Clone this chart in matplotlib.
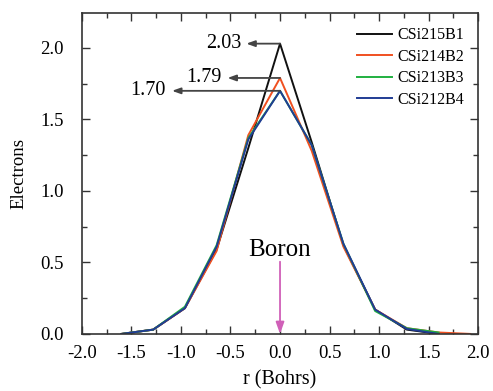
import matplotlib
matplotlib.use("Agg")
import matplotlib.pyplot as plt
from matplotlib.ticker import MultipleLocator

plt.rcParams['font.family'] = ['Liberation Serif', 'DejaVu Serif']

# Radial positions (Bohr) and electron counts for each cluster
r = [-1.6, -1.28, -0.96, -0.64, -0.32, 0.0, 0.32, 0.64, 0.96, 1.28, 1.6]
r_ext = r + [1.92]
b1 = [0.0, 0.03, 0.18, 0.59, 1.30, 2.03, 1.34, 0.62, 0.17, 0.03, 0.0]
b2 = [0.0, 0.03, 0.18, 0.58, 1.39, 1.79, 1.28, 0.61, 0.17, 0.04, 0.01, 0.0]
b3 = [0.0, 0.03, 0.19, 0.62, 1.37, 1.70, 1.32, 0.63, 0.16, 0.04, 0.01]
b4 = [0.0, 0.03, 0.18, 0.61, 1.36, 1.70, 1.32, 0.63, 0.17, 0.035, 0.0]

labels = ['CSi215B1', 'CSi214B2', 'CSi213B3', 'CSi212B4']
colors = ['#111111', '#f05020', '#20b040', '#203c94']

peaks = [2.03, 1.79, 1.70]
arrow_tips = [-0.34, -0.53, -1.09]
text_right = [-0.39, -0.59, -1.15]

fig = plt.figure(figsize=(4.93, 3.91), dpi=100)
ax = fig.add_axes([0.166, 0.146, 0.804, 0.821])

ax.plot(r, b1, color=colors[0], lw=1.4, label=labels[0])
ax.plot(r_ext, b2, color=colors[1], lw=1.4, label=labels[1])
ax.plot(r, b3, color=colors[2], lw=1.4, label=labels[2])
ax.plot(r, b4, color=colors[3], lw=1.4, label=labels[3])

for val, tip, tx in zip(peaks, arrow_tips, text_right):
    ax.annotate('', xy=(tip, val), xytext=(0.0, val),
                arrowprops=dict(arrowstyle='-|>,head_length=0.5,head_width=0.18',
                                color='#444444', lw=1.3, shrinkA=0, shrinkB=0))
    ax.text(tx, val, f'{val:.2f}', ha='right', va='center', fontsize=14.5)

ax.annotate('', xy=(0.0, 0.0), xytext=(0.0, 0.505),
            arrowprops=dict(arrowstyle='-|>,head_length=0.7,head_width=0.25',
                            color='#d060b8', lw=1.3, shrinkA=0, shrinkB=0))
ax.text(0.0, 0.59, 'Boron', ha='center', va='center', fontsize=18)

ax.set_xlim(-2.0, 2.0)
ax.set_ylim(0.0, 2.245)
ax.xaxis.set_major_locator(MultipleLocator(0.5))
ax.xaxis.set_minor_locator(MultipleLocator(0.25))
ax.yaxis.set_major_locator(MultipleLocator(0.5))
ax.yaxis.set_minor_locator(MultipleLocator(0.25))
ax.xaxis.set_major_formatter(plt.FormatStrFormatter('%.1f'))
ax.yaxis.set_major_formatter(plt.FormatStrFormatter('%.1f'))
ax.tick_params(which='both', direction='in', top=True, right=True,
               labelsize=13.5, width=1.0, color='#333333')
ax.tick_params(which='major', length=6)
ax.tick_params(which='minor', length=3.5)
ax.tick_params(axis='x', which='major', pad=8)
ax.tick_params(axis='y', which='major', pad=13)
for s in ax.spines.values():
    s.set_linewidth(1.2)
    s.set_color('#333333')

ax.set_xlabel('r (Bohrs)', fontsize=14.5, labelpad=6)
ax.set_ylabel('Electrons', fontsize=13.5, labelpad=9)

ax.legend(loc='upper right', frameon=False, fontsize=11.5, handlelength=2.2,
          handletextpad=0.3, labelspacing=0.35, borderaxespad=0.5)

fig.savefig('out.png', dpi=100)
